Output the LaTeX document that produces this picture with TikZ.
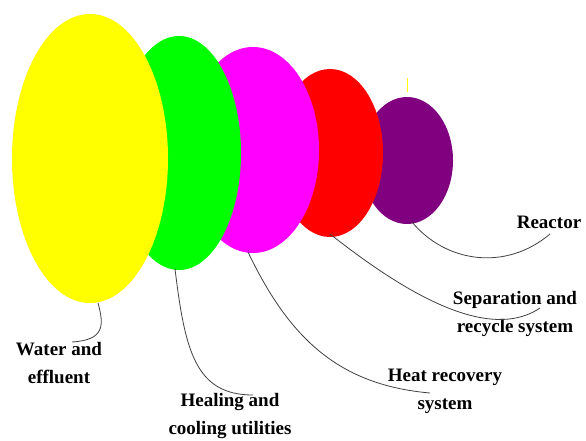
\documentclass[tikz,border=0pt]{standalone}
\usepackage{fontspec}
\newfontfamily\labelfont{Liberation Serif}[BoldFont={Liberation Serif Bold}]
\definecolor{ringyellow}{HTML}{FFFF00}
\definecolor{ringgreen}{HTML}{00FF00}
\definecolor{ringmagenta}{HTML}{FF00FF}
\definecolor{ringred}{HTML}{FF0000}
\definecolor{ringpurple}{HTML}{800080}
\begin{document}
\begin{tikzpicture}[x=1pt,y=-1pt,
  lbl/.style={font=\labelfont\bfseries\fontsize{19}{28}\selectfont,align=center,inner sep=0pt},
  lead/.style={black!75,line width=0.8pt}]
\useasboundingbox (0,0) rectangle (586,440);

\fill[ringpurple] (407,160.5) ellipse (46pt and 63.5pt);
\fill[ringred] (330,153) ellipse (53pt and 84pt);
\fill[ringmagenta] (253,150) ellipse (66pt and 103pt);
\fill[ringgreen] (179,153) ellipse (62pt and 117pt);
\fill[ringyellow] (90,158.5) ellipse (78pt and 144.5pt);

\draw[ringyellow,line width=1pt] (407,78) -- (407,92);

\coordinate (purplefoot) at (412,222);
\coordinate (redfoot) at (330,234);
\coordinate (magentafoot) at (248,252);
\coordinate (greenfoot) at (175,269);
\coordinate (yellowfoot) at (98,303);

\node[lbl] (reactor) at (549,222) {Reactor};
\node[lbl] (separation) at (515,314) {Separation and\\recycle system};
\node[lbl] (heatrec) at (445,391) {Heat recovery\\system};
\node[lbl] (utilities) at (230,416) {Healing and\\cooling utilities};
\node[lbl] (water) at (59,363) {Water and\\effluent};

\coordinate (reactorend) at (550,234);
\coordinate (separationend) at (540,308);
\coordinate (heatrecend) at (430,393);
\coordinate (utilitiesend) at (253,395);
\coordinate (waterend) at (72,342);

\draw[lead] (purplefoot) .. controls (445,262) and (505,272) .. (reactorend);
\draw[lead] (redfoot) .. controls (395,285) and (485,345) .. (separationend);
\draw[lead] (magentafoot) .. controls (290,340) and (340,385) .. (heatrecend);
\draw[lead] (greenfoot) .. controls (185,350) and (195,395) .. (utilitiesend);
\draw[lead] (yellowfoot) .. controls (104,325) and (105,340) .. (waterend);
\end{tikzpicture}
\end{document}
